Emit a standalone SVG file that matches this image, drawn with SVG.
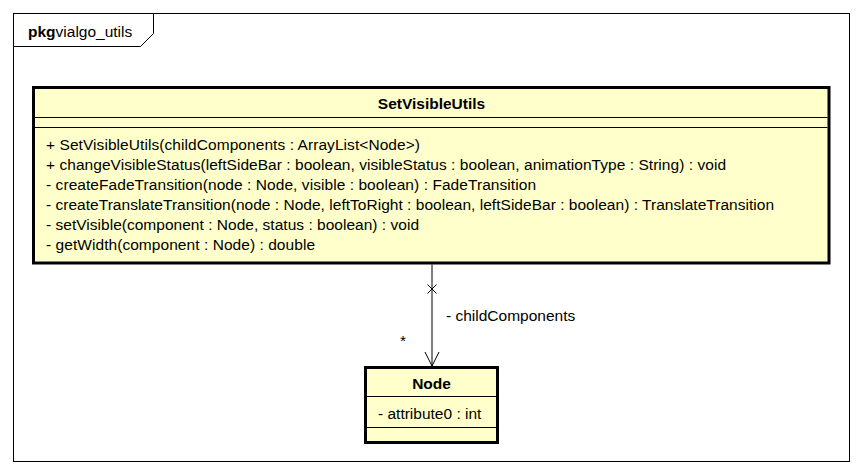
<svg xmlns="http://www.w3.org/2000/svg" width="864" height="476" viewBox="0 0 864 476">
<style>
  text { font-family: "Liberation Sans", Arial, sans-serif; font-size: 15.5px; fill: #000; }
  .b { font-weight: bold; }
  .cls { fill: #FFFFCC; stroke: #000; stroke-width: 3; }
  .div { stroke: #000; stroke-width: 1; fill: none; }
  .frame { fill: #fff; stroke: #000; stroke-width: 1; }
  .conn { stroke: #000; stroke-width: 1; fill: none; }
</style>
<rect width="864" height="476" fill="#fff"/>
<g id="package">
  <rect class="frame" x="13.5" y="13.5" width="836" height="448"/>
  <path class="conn" d="M13.5,46.5 H140.5 L153.5,33.5 V13.5"/>
  <text x="28" y="37"><tspan class="b">pkg</tspan>vialgo_utils</text>
</g>
<g id="SetVisibleUtils">
  <rect class="cls" x="33.5" y="87.5" width="795.5" height="175.5"/>
  <line class="div" x1="35" y1="117.5" x2="827.5" y2="117.5"/>
  <line class="div" x1="35" y1="127.5" x2="827.5" y2="127.5"/>
  <text class="b" x="431.5" y="109" text-anchor="middle">SetVisibleUtils</text>
  <text x="46" y="150" textLength="374" lengthAdjust="spacing">+ SetVisibleUtils(childComponents : ArrayList&lt;Node&gt;)</text>
  <text x="46" y="170" textLength="680" lengthAdjust="spacing">+ changeVisibleStatus(leftSideBar : boolean, visibleStatus : boolean, animationType : String) : void</text>
  <text x="46" y="190" textLength="490" lengthAdjust="spacing">- createFadeTransition(node : Node, visible : boolean) : FadeTransition</text>
  <text x="46" y="210" textLength="728" lengthAdjust="spacing">- createTranslateTransition(node : Node, leftToRight : boolean, leftSideBar : boolean) : TranslateTransition</text>
  <text x="46" y="230" textLength="373" lengthAdjust="spacing">- setVisible(component : Node, status : boolean) : void</text>
  <text x="46" y="250" textLength="269" lengthAdjust="spacing">- getWidth(component : Node) : double</text>
</g>
<g id="Node">
  <rect class="cls" x="365.5" y="367.5" width="132" height="75"/>
  <line class="div" x1="367" y1="396.5" x2="496" y2="396.5"/>
  <line class="div" x1="367" y1="427.5" x2="496" y2="427.5"/>
  <text class="b" x="431.5" y="389" text-anchor="middle">Node</text>
  <text x="378" y="419">- attribute0 : int</text>
</g>
<g id="connectors">
  <line class="conn" x1="432" y1="264.5" x2="432" y2="366"/>
  <path class="conn" d="M427.5,284.5 L436.5,293.5 M436.5,284.5 L427.5,293.5"/>
  <path class="conn" d="M425,352 L432,366 L439,352"/>
  <text x="446" y="321">- childComponents</text>
  <text x="400" y="346">*</text>
</g>
</svg>
